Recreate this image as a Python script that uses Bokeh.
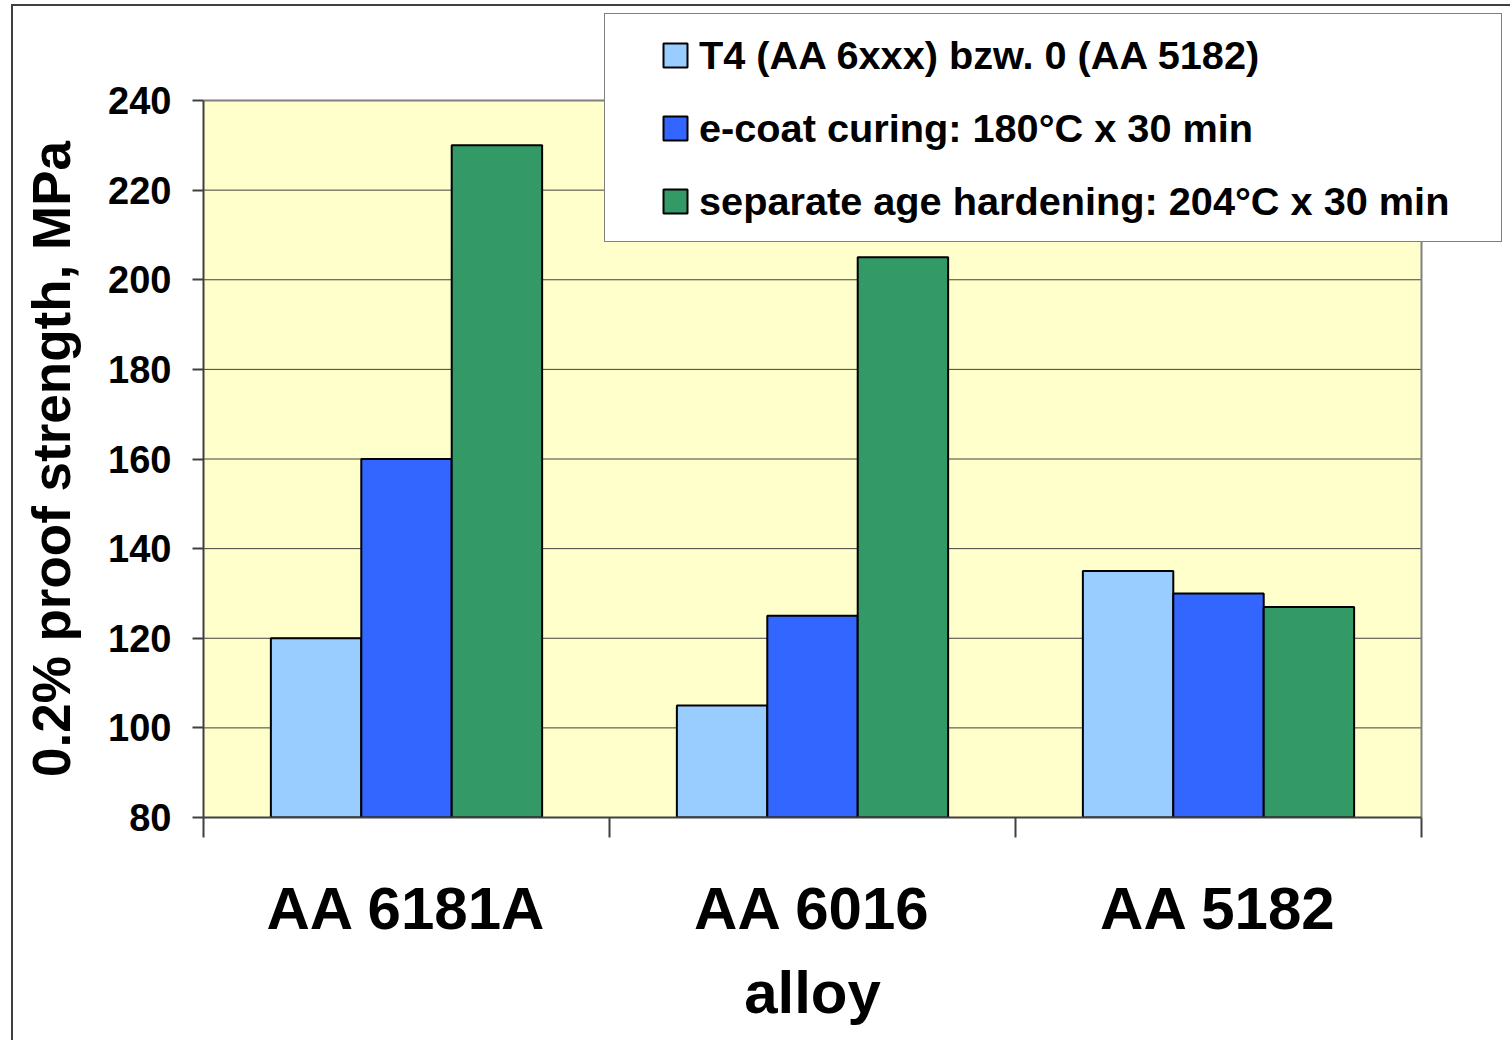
from bokeh.plotting import figure
from bokeh.models import (Range1d, FixedTicker, Legend, LegendItem, LinearAxis,
                          ColumnDataSource)
from bokeh.transform import dodge
from bokeh.embed import file_html
from bokeh.resources import INLINE

# Proof strength per alloy and heat-treatment state
alloys = ["AA 6181A", "AA 6016", "AA 5182"]
t4_state = [120, 105, 135]
ecoat_curing = [160, 125, 130]
age_hardening = [230, 205, 127]
series_labels = [
    "T4 (AA 6xxx) bzw. 0 (AA 5182)",
    "e-coat curing: 180°C x 30 min",
    "separate age hardening: 204°C x 30 min",
]
y_ticks = [80, 100, 120, 140, 160, 180, 200, 220, 240]
y_title = "0.2% proof strength, MPa"
x_title = "alloy"

FONT = "Liberation Sans"
colors = ["#99CCFF", "#3366FF", "#339966"]
AXIS_COLOR = "#404040"
EDGE_COLOR = "#808080"

n = len(alloys)
y_lo, y_hi = y_ticks[0], y_ticks[-1]
centers = [i + 0.5 for i in range(n)]
source = ColumnDataSource(dict(x=centers, alloy=alloys, t4=t4_state,
                               ecoat=ecoat_curing, aged=age_hardening))

# Page layout (canvas pixels). The data frame is larger than the yellow
# plotting area so the legend panel can hang over its top-right corner.
W, H = 1499, 1036
area_left, area_right, area_top, area_bottom = 190, 1408, 94, 811
frame_right, frame_top = 1490, 7
x_end = n * (frame_right - area_left) / (area_right - area_left)
y_end = y_lo + (y_hi - y_lo) * (area_bottom - frame_top) / (area_bottom - area_top)

p = figure(width=W, height=H, output_backend="svg", toolbar_location=None,
           x_range=Range1d(0, x_end), y_range=Range1d(y_lo, y_end),
           min_border_left=area_left, min_border_right=W - frame_right,
           min_border_top=frame_top, min_border_bottom=H - area_bottom)
# thin dark frame around the whole figure
p.styles = {"margin-left": "11px", "margin-top": "4px",
            "border-left": "2px solid #404040", "border-top": "2px solid #404040"}
p.background_fill_color = "white"
p.border_fill_color = "white"
p.outline_line_color = None
p.xgrid.grid_line_color = None
p.ygrid.grid_line_color = None

# yellow plotting area with its grid and edges
p.quad(left=0, right=n, bottom=y_lo, top=y_hi, fill_color="#FFFFCC", line_color=None)
inner = y_ticks[1:-1]
p.segment(x0=[0] * len(inner), x1=[n] * len(inner), y0=inner, y1=inner,
          line_color=AXIS_COLOR, line_width=1)
p.segment(x0=[0, n], x1=[n, n], y0=[y_hi, y_lo], y1=[y_hi, y_hi],
          line_color=EDGE_COLOR, line_width=2)

# bars, three per alloy
bar_w = 0.2227
cols = ["t4", "ecoat", "aged"]
renderers = []
for k, (col, c) in enumerate(zip(cols, colors)):
    r = p.vbar(x=dodge("x", (k - 1) * bar_w, range=p.x_range), top=col, bottom=y_lo,
               width=bar_w, source=source, fill_color=c,
               line_color="black", line_width=2)
    renderers.append(r)

# y axis
yax = p.yaxis[0]
yax.bounds = (y_lo, y_hi)
yax.ticker = FixedTicker(ticks=y_ticks)
yax.axis_line_color = AXIS_COLOR
yax.axis_line_width = 2
yax.major_tick_line_color = AXIS_COLOR
yax.major_tick_line_width = 2
yax.major_tick_out = 11
yax.major_tick_in = 0
yax.minor_tick_line_color = None
yax.major_label_text_font = FONT
yax.major_label_text_font_style = "bold"
yax.major_label_text_font_size = "38px"
yax.major_label_text_color = "black"
yax.major_label_standoff = 21

# y title, centred on the value span
y_mid = (y_lo + y_hi) / 2
ytitle = LinearAxis(ticker=FixedTicker(ticks=[y_mid]),
                    major_label_overrides={y_mid: y_title},
                    major_label_orientation="vertical",
                    axis_line_color=None, major_tick_line_color=None,
                    minor_tick_line_color=None, major_tick_out=0, major_tick_in=0,
                    major_label_standoff=25,
                    major_label_text_font=FONT, major_label_text_font_style="bold",
                    major_label_text_font_size="53px", major_label_text_color="black")
p.add_layout(ytitle, "left")

# x axis: labels at category centres, separators at boundaries
xax = p.xaxis[0]
xax.bounds = (0, n)
xax.ticker = FixedTicker(ticks=centers, minor_ticks=list(range(n + 1)))
xax.major_label_overrides = {c: a for c, a in zip(centers, alloys)}
xax.axis_line_color = AXIS_COLOR
xax.axis_line_width = 2
xax.major_tick_line_color = None
xax.major_tick_out = 0
xax.major_tick_in = 0
xax.minor_tick_line_color = AXIS_COLOR
xax.minor_tick_line_width = 2
xax.minor_tick_out = 20
xax.minor_tick_in = 0
xax.major_label_text_font = FONT
xax.major_label_text_font_style = "bold"
xax.major_label_text_font_size = "60px"
xax.major_label_text_color = "black"
xax.major_label_standoff = 37

# x title, centred under the categories
x_mid = n / 2
xtitle = LinearAxis(ticker=FixedTicker(ticks=[x_mid]),
                    major_label_overrides={x_mid: x_title},
                    axis_line_color=None, major_tick_line_color=None,
                    minor_tick_line_color=None, major_tick_out=0, major_tick_in=0,
                    major_label_standoff=14,
                    major_label_text_font=FONT, major_label_text_font_style="bold",
                    major_label_text_font_size="60px", major_label_text_color="black")
p.add_layout(xtitle, "below")

# white legend panel (an empty legend gives the framed box)
blank = p.vbar(x=[], top=[], width=0, fill_alpha=0, line_alpha=0)
panel = Legend(items=[LegendItem(label=" ", renderers=[blank])],
               location=(401, 575), padding=0, spacing=0,
               glyph_width=1, glyph_height=1, label_standoff=0,
               label_width=895, label_height=227, label_text_alpha=0,
               border_line_color="black", border_line_width=1.5,
               background_fill_color="white", background_fill_alpha=1.0)
p.add_layout(panel)

legend = Legend(items=[LegendItem(label=l, renderers=[r])
                       for l, r in zip(series_labels, renderers)],
                location=(457, 593), padding=10, spacing=27,
                glyph_width=30, glyph_height=30, label_height=46,
                label_standoff=9,
                label_text_font=FONT, label_text_font_style="bold",
                label_text_font_size="39.7px", label_text_color="black",
                border_line_color=None, background_fill_alpha=0)
p.add_layout(legend)

open("out.html", "w").write(file_html(p, INLINE))
